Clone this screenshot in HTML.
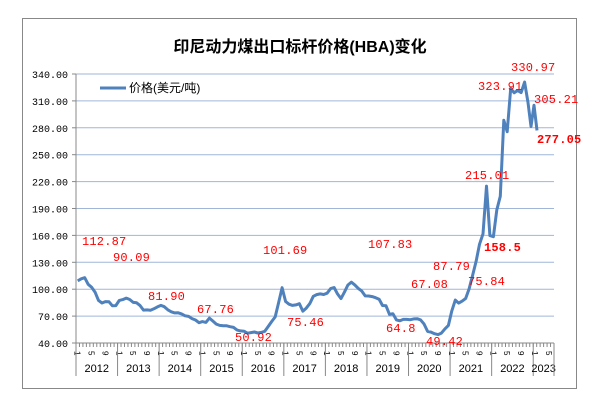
<!DOCTYPE html>
<html><head><meta charset="utf-8"><style>
body{margin:0;background:#fff;width:602px;height:412px;overflow:hidden}
svg{font-family:"Liberation Sans","Noto Sans CJK SC",sans-serif}
.yl{font-family:"Liberation Mono","Noto Sans CJK SC",monospace;font-size:10px;fill:#000}
.dl{font-family:"Liberation Mono",monospace;font-size:12px;fill:#f00;letter-spacing:0.2px}
</style></head><body>
<svg id="s" width="602" height="412" xmlns="http://www.w3.org/2000/svg">
<rect x="0" y="0" width="602" height="412" fill="#fff"/>
<rect x="22.5" y="18.5" width="554" height="370" fill="none" stroke="#888" stroke-width="1"/>
<text x="300" y="52" text-anchor="middle" font-size="16" font-weight="bold" fill="#000">印尼动力煤出口标杆价格(HBA)变化</text>
<g id="grid"></g>
<line x1="100" y1="88" x2="126" y2="88" stroke="#4f81bd" stroke-width="3"/>
<text x="129" y="92" font-size="12" fill="#000">价格(美元/吨)</text>
<polyline id="ln" fill="none" stroke="#4f81bd" stroke-width="3" stroke-linejoin="round"/>
<g id="lbl">
<text class="dl" x="82" y="245">112.87</text>
<text class="dl" x="113" y="261">90.09</text>
<text class="dl" x="148" y="300">81.90</text>
<text class="dl" x="197" y="313">67.76</text>
<text class="dl" x="235" y="341">50.92</text>
<text class="dl" x="263" y="254">101.69</text>
<text class="dl" x="287" y="326">75.46</text>
<text class="dl" x="368" y="248">107.83</text>
<text class="dl" x="386" y="332">64.8</text>
<text class="dl" x="411" y="288">67.08</text>
<text class="dl" x="426" y="345">49.42</text>
<text class="dl" x="433" y="270">87.79</text>
<text class="dl" x="468" y="285">75.84</text>
<text class="dl" x="465" y="179">215.01</text>
<text class="dl" x="484" y="251" font-weight="bold">158.5</text>
<text class="dl" x="478" y="90">323.91</text>
<text class="dl" x="511" y="71">330.97</text>
<text class="dl" x="534" y="103">305.21</text>
<text class="dl" x="537" y="143" font-weight="bold">277.05</text>
</g>
</svg>
<script>
var ns="http://www.w3.org/2000/svg",g=document.getElementById('grid');
function el(t,a,txt){var e=document.createElementNS(ns,t);for(var k in a)e.setAttribute(k,a[k]);if(txt)e.textContent=txt;g.appendChild(e);return e;}
function Y(v){return 343-(v-40)*0.8967;}
for(var v=40;v<=340;v+=30){var y=Y(v);
 if(v>40)el('line',{x1:76,y1:y,x2:554,y2:y,stroke:'#9fb6d8','stroke-width':1});
 el('line',{x1:72,y1:y,x2:76,y2:y,stroke:'#888'});
 el('text',{x:68,y:y+4,'text-anchor':'end','class':'yl'},v.toFixed(2));}
el('line',{x1:76,y1:74,x2:76,y2:343,stroke:'#888'});
el('line',{x1:76,y1:343,x2:554,y2:343,stroke:'#888'});
var s=(554-76)/138;
for(var i=0;i<=138;i++){var x=76+s*i;el('line',{x1:x,y1:343,x2:x,y2:347,stroke:'#888'});}
for(var i=0;i<138;i++){var m=i%12;if(m==0||m==4||m==8){var x=76+s*(i+0.5);
 el('text',{x:0,y:0,'font-size':8,fill:'#000',transform:'translate('+(x-3)+',351) rotate(90)'},String(m+1));}}
for(var yr=0;yr<=12;yr++){var x=76+s*12*Math.min(yr,11.5);
 el('line',{x1:Math.min(x,554),y1:343,x2:Math.min(x,554),y2:376,stroke:'#888'});
 if(yr<12){var xe=Math.min(76+s*12*(yr+1),554);el('text',{x:(x+xe)/2,y:372,'text-anchor':'middle','font-size':11,fill:'#000'},String(2012+yr));}}
var d=[109.29,111.58,112.87,105.61,102.12,96.65,87.56,84.65,86.21,86.04,81.44,81.75,
87.55,88.35,90.09,88.56,85.33,84.87,81.69,76.70,76.89,76.61,78.13,80.31,
81.90,80.44,77.01,74.81,73.60,73.64,72.45,70.29,69.69,67.26,65.70,62.65,
63.84,62.92,67.76,64.48,61.08,59.59,59.16,59.14,58.21,57.39,54.43,53.51,
53.20,50.92,51.62,52.32,51.20,51.87,53.00,58.37,63.93,69.07,84.89,101.69,
86.23,83.32,81.90,82.51,83.81,75.46,78.95,83.97,92.03,93.99,94.80,94.04,
95.54,100.69,101.86,94.75,89.53,96.61,104.65,107.83,104.81,100.89,97.90,92.51,
92.41,91.80,90.57,88.85,81.86,81.48,71.92,72.67,65.79,64.80,66.27,66.30,
65.93,66.89,67.08,65.77,61.11,52.98,52.16,50.34,49.42,51.00,55.71,59.65,
75.84,87.79,84.47,86.68,89.74,100.33,115.35,130.99,150.03,161.63,215.01,159.79,
158.50,188.38,203.69,288.40,275.64,323.91,319.00,321.59,319.22,330.97,308.20,281.48,
305.21,277.05];
var pts=d.map(function(v,i){var x=76+s*(i+0.5);if(i>=130)x=76+s*130.5+(i-130)*3.0;return x.toFixed(1)+','+Y(v).toFixed(1);});
document.getElementById('ln').setAttribute('points',pts.join(' '));
</script>
</body></html>
